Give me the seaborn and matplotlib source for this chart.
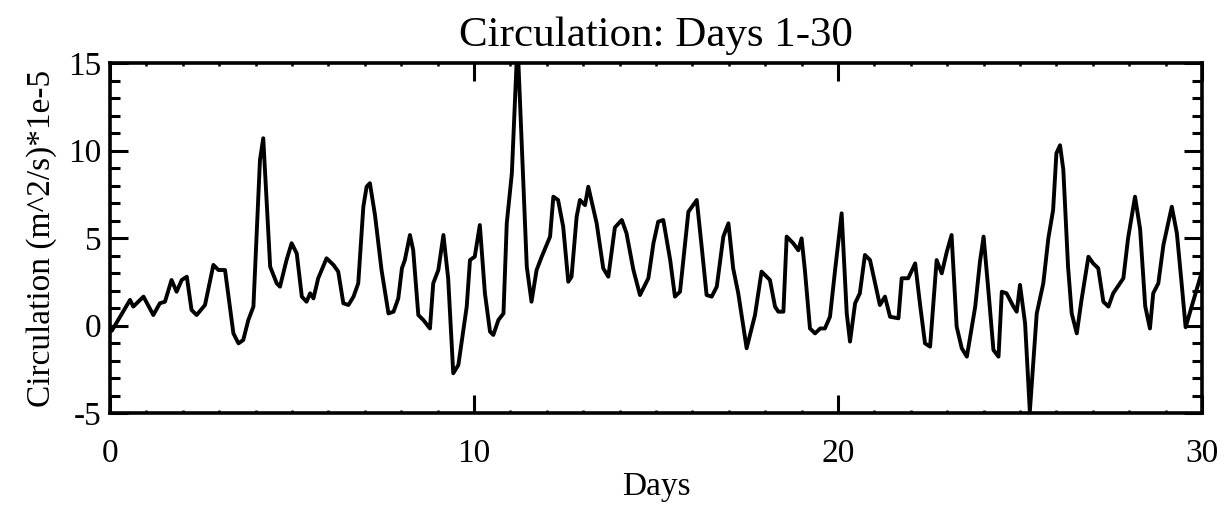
import matplotlib
matplotlib.use("Agg")
import matplotlib.pyplot as plt
import seaborn as sns
import pandas as pd
from matplotlib.ticker import MultipleLocator

days = [0.05, 0.55, 0.64, 0.92, 1.19, 1.37, 1.51, 1.69, 1.83, 1.97, 2.11, 2.24, 2.38, 2.61, 2.84, 2.98,
        3.16, 3.39, 3.53, 3.66, 3.80, 3.94, 4.12, 4.21, 4.40, 4.58, 4.67, 4.85, 4.99, 5.13, 5.27, 5.40,
        5.50, 5.59, 5.72, 5.95, 6.14, 6.27, 6.41, 6.55, 6.69, 6.82, 6.96, 7.05, 7.14, 7.28, 7.46, 7.65,
        7.79, 7.92, 8.02, 8.10, 8.24, 8.33, 8.47, 8.61, 8.79, 8.88, 9.02, 9.16, 9.29, 9.43, 9.57, 9.80,
        9.89, 10.02, 10.16, 10.30, 10.44, 10.53, 10.67, 10.81, 10.90, 11.04, 11.17, 11.22, 11.35, 11.45,
        11.58, 11.72, 11.86, 12.09, 12.18, 12.31, 12.45, 12.59, 12.68, 12.82, 12.91, 13.05, 13.14, 13.37,
        13.55, 13.69, 13.87, 14.06, 14.19, 14.38, 14.56, 14.79, 14.93, 15.06, 15.20, 15.39, 15.52, 15.66,
        15.89, 16.12, 16.26, 16.39, 16.53, 16.67, 16.85, 16.99, 17.12, 17.26, 17.49, 17.72, 17.90, 18.13,
        18.27, 18.36, 18.50, 18.59, 18.77, 18.91, 19.00, 19.09, 19.23, 19.37, 19.51, 19.64, 19.78, 19.92,
        20.10, 20.24, 20.33, 20.47, 20.60, 20.74, 20.88, 21.06, 21.15, 21.29, 21.43, 21.66, 21.75, 21.93,
        22.12, 22.25, 22.39, 22.53, 22.71, 22.85, 22.99, 23.12, 23.26, 23.40, 23.54, 23.77, 23.90, 24.00,
        24.13, 24.27, 24.41, 24.50, 24.63, 24.82, 24.91, 25.00, 25.14, 25.27, 25.46, 25.64, 25.78, 25.91,
        26.00, 26.10, 26.19, 26.32, 26.42, 26.56, 26.69, 26.88, 27.01, 27.15, 27.29, 27.43, 27.56, 27.84,
        27.97, 28.16, 28.30, 28.44, 28.57, 28.66, 28.80, 28.94, 29.17, 29.31, 29.44, 29.55, 30.00]

circulation = [-0.3, 1.46, 1.08, 1.65, 0.6, 1.27, 1.36, 2.6, 1.93, 2.6, 2.79, 0.89, 0.6, 1.17, 3.46, 3.17,
               3.17, -0.45, -1.02, -0.83, 0.31, 1.08, 9.46, 10.7, 3.36, 2.41, 2.22, 3.74, 4.7, 4.12, 1.65, 1.36,
               1.84, 1.55, 2.7, 3.84, 3.46, 3.08, 1.27, 1.17, 1.65, 2.41, 6.79, 7.93, 8.13, 6.31, 3.17, 0.69,
               0.79, 1.55, 3.27, 3.74, 5.17, 4.3, 0.6, 0.31, -0.17, 2.41, 3.17, 5.17, 2.7, -2.73, -2.26, 1.08,
               3.74, 3.93, 5.74, 1.84, -0.35, -0.54, 0.31, 0.69, 5.84, 8.7, 15.0, 15.0, 8.5, 3.36,
               1.36, 3.17, 3.93, 5.08, 7.36, 7.17, 5.65, 2.5, 2.79, 6.22, 7.17, 6.88, 7.93, 5.84,
               3.27, 2.79, 5.6, 6.03, 5.27, 3.17, 1.74, 2.7, 4.7, 5.93, 6.03, 3.74, 1.65, 1.93,
               6.5, 7.17, 4.4, 1.74, 1.65, 2.22, 5.08, 5.84, 3.27, 1.84, -1.3, 0.6, 3.08, 2.6,
               1.08, 0.79, 0.79, 5.08, 4.7, 4.3, 4.98, 3.17, -0.17, -0.45, -0.17, -0.17, 0.5, 3.17,
               6.41, 0.69, -0.92, 1.27, 1.84, 4.03, 3.74, 2.03, 1.17, 1.65, 0.5, 0.41, 2.7, 2.7,
               3.55, 1.27, -1.02, -1.21, 3.74, 2.98, 4.22, 5.17, -0.07, -1.3, -1.78, 1.08, 3.65, 5.08,
               2.03, -1.4, -1.78, 1.93, 1.84, 1.08, 0.79, 2.32, 0.12, -4.92, 0.69, 2.41, 5.0, 6.6,
               9.84, 10.3, 8.9, 3.36, 0.69, -0.45, 1.46, 3.93, 3.55, 3.27, 1.36, 1.08, 1.84, 2.7,
               5.0, 7.36, 5.5, 1.1, -0.17, 1.84, 2.41, 4.6, 6.79, 5.27, 2.41, -0.1, 3.1]

x_ticks = [0, 10, 20, 30]
y_ticks = [-5, 0, 5, 10, 15]

sns.set_style("ticks")
plt.rcParams['font.family'] = ['Liberation Serif', 'DejaVu Serif']

df = pd.DataFrame({"Days": days, "Circulation": circulation})

fig = plt.figure(figsize=(12.32, 5.08), dpi=100)
ax = fig.add_axes([110/1232, 1 - 413/508, (1202-110)/1232, (413-63)/508])

sns.lineplot(data=df, x="Days", y="Circulation", ax=ax, color="black", linewidth=2.8,
             sort=False, estimator=None)

ax.set_xlim(0, 30)
ax.set_ylim(-5, 15)
ax.set_xticks(x_ticks)
ax.set_yticks(y_ticks)
ax.set_xticklabels([str(t) for t in x_ticks])
ax.set_yticklabels([str(t) for t in y_ticks])
ax.xaxis.set_minor_locator(MultipleLocator(1))
ax.yaxis.set_minor_locator(MultipleLocator(1))

ax.tick_params(axis='both', which='both', direction='in', top=True, right=True, colors='black')
ax.tick_params(axis='y', which='major', length=13, width=2.2, labelsize=24, pad=6)
ax.tick_params(axis='y', which='minor', length=7, width=2.2)
ax.tick_params(axis='x', which='major', length=13, width=2.2, labelsize=24, pad=18)
ax.tick_params(axis='x', which='minor', length=2, width=1.8)

for s in ax.spines.values():
    s.set_linewidth(2.6)
    s.set_color('black')
    s.set_visible(True)

ax.set_title("Circulation: Days 1-30", fontsize=31, pad=12, color='black')
ax.set_xlabel("Days", fontsize=24, labelpad=2, color='black')
ax.set_ylabel("Circulation (m^2/s)*1e-5", fontsize=24, labelpad=8, color='black')

fig.savefig("out.png", dpi=100)
